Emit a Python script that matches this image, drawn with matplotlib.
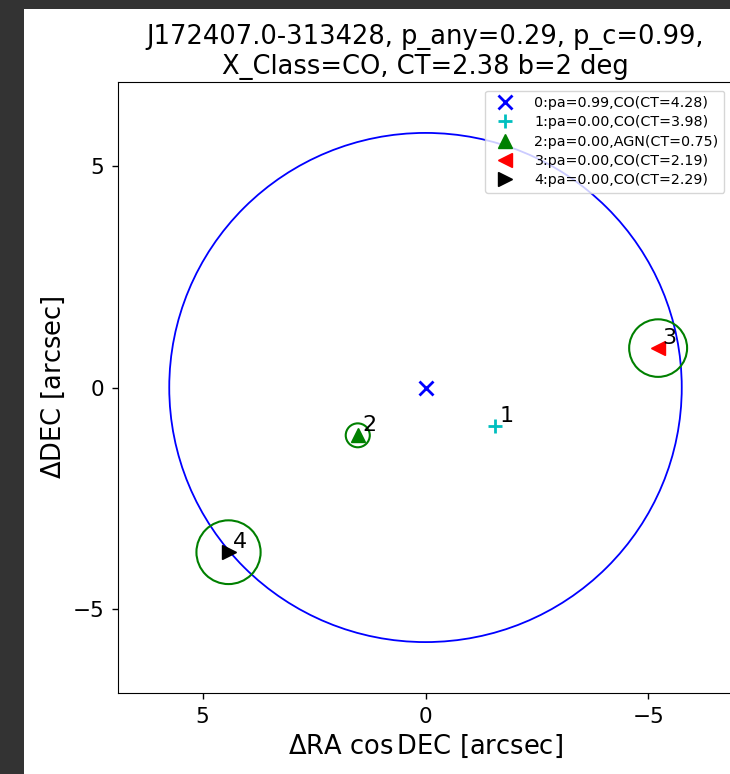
import matplotlib
matplotlib.use('Agg')
import matplotlib.pyplot as plt
from matplotlib.patches import Circle, Rectangle

# source table (offsets in arcsec from the X-ray position)
src_id = [0, 1, 2, 3, 4]
d_ra = [0.0, -1.56, 1.52, -5.22, 4.42]
d_dec = [0.0, -0.88, -1.08, 0.89, -3.72]
p_a = [0.99, 0.00, 0.00, 0.00, 0.00]
src_class = ['CO', 'CO', 'AGN', 'CO', 'CO']
src_ct = [4.28, 3.98, 0.75, 2.19, 2.29]
markers = ['x', '+', '^', '<', '>']
colors = ['blue', 'c', 'green', 'red', 'black']
# green error circles (None = no circle)
err_r = [None, None, 0.27, 0.65, 0.72]

x_pos_err = 5.75
title = 'J172407.0-313428, p_any=0.29, p_c=0.99,\nX_Class=CO, CT=2.38 b=2 deg'

W, H = 730, 774
fig = plt.figure(figsize=(W / 100, H / 100), dpi=100)
fig.patch.set_facecolor('#333333')
fig.add_artist(Rectangle((24 / W, 0), 1 - 24 / W, 1 - 9 / H, transform=fig.transFigure,
                         facecolor='white', edgecolor='none', zorder=0))

ax = fig.add_axes([118 / W, (H - 693) / H, (733 - 118) / W, (693 - 82) / H])

ax.add_patch(Circle((0, 0), x_pos_err, fill=False, color='blue', lw=1.3))

for i in range(len(src_id)):
    lab = f'{src_id[i]}:pa={p_a[i]:.2f},{src_class[i]}(CT={src_ct[i]:.2f})'
    mew = 2 if markers[i] in ('x', '+') else 1
    ax.plot(d_ra[i], d_dec[i], linestyle='none', marker=markers[i], color=colors[i],
            ms=10, mew=mew, label=lab)
    if err_r[i] is not None:
        ax.add_patch(Circle((d_ra[i], d_dec[i]), err_r[i], fill=False, color='green', lw=1.5))
    if i > 0:
        ax.text(d_ra[i] - 0.1, d_dec[i] + 0.1, str(src_id[i]), fontsize=16)

lim = x_pos_err * 1.2
ax.set_xlim(lim, -lim)
ax.set_ylim(-lim, lim)
ax.set_xticks([5, 0, -5])
ax.set_yticks([-5, 0, 5])
ax.tick_params(labelsize=15.5, length=4, width=1, pad=6)
ax.set_xlabel(r'$\Delta$RA cos$\,$DEC [arcsec]', fontsize=18.5)
ax.set_ylabel(r'$\Delta$DEC [arcsec]', fontsize=18.5)
ax.set_title(title, fontsize=18.5)
ax.legend(loc='upper right', fontsize=10.3, labelspacing=0.36, handletextpad=1.05,
          borderaxespad=0.6)

fig.savefig('out.png', dpi=100, facecolor=fig.get_facecolor())
